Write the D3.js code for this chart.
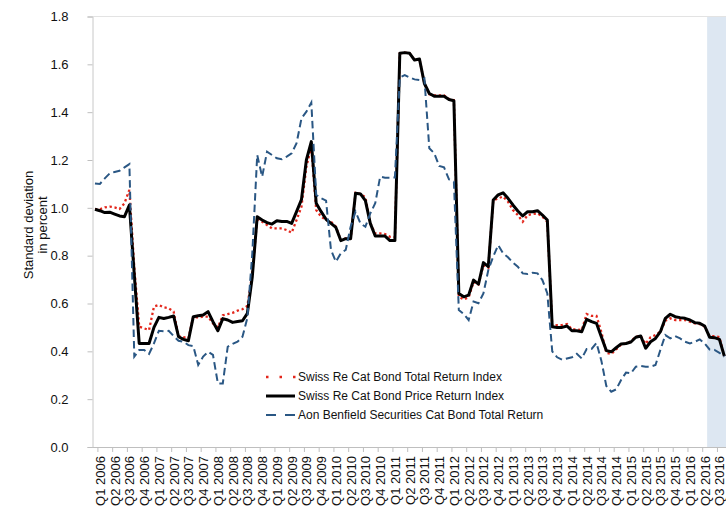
<!DOCTYPE html>
<html><head><meta charset="utf-8">
<script src="https://cdn.jsdelivr.net/npm/d3@7"></script>
<style>
body{margin:0;background:#fff}
svg{display:block}
text{font-family:"Liberation Sans",Arial,sans-serif}
</style>
</head><body>
<svg id="c" width="726" height="513"></svg>
<script>
// Quarter labels (x axis)
const quarterLabels = [
 "Q1 2006","Q2 2006","Q3 2006","Q4 2006",
 "Q1 2007","Q2 2007","Q3 2007","Q4 2007",
 "Q1 2008","Q2 2008","Q3 2008","Q4 2008",
 "Q1 2009","Q2 2009","Q3 2009","Q4 2009",
 "Q1 2010","Q2 2010","Q3 2010","Q4 2010",
 "Q1 2011","Q2 2011","Q3 2011","Q4 2011",
 "Q1 2012","Q2 2012","Q3 2012","Q4 2012",
 "Q1 2013","Q2 2013","Q3 2013","Q4 2013",
 "Q1 2014","Q2 2014","Q3 2014","Q4 2014",
 "Q1 2015","Q2 2015","Q3 2015","Q4 2015",
 "Q1 2016","Q2 2016","Q3 2016"
];
const yTicks = [0, 0.2, 0.4, 0.6, 0.8, 1.0, 1.2, 1.4, 1.6, 1.8];
const seriesNames = [
 "Swiss Re Cat Bond Total Return Index",
 "Swiss Re Cat Bond Price Return Index",
 "Aon Benfield Securities Cat Bond Total Return"
];
// Monthly values, first value = Dec 2005
const totalReturn = [
 0.994,0.994,1.002,1.005,1.002,0.995,1.019,1.075,0.75,0.503,
 0.496,0.489,0.587,0.594,0.584,0.580,0.566,0.464,0.459,0.454,
 0.545,0.541,0.545,0.545,0.517,0.500,0.551,0.556,0.561,0.570,
 0.576,0.590,0.726,0.955,0.942,0.928,0.914,0.914,0.914,0.907,
 0.896,0.949,1.005,1.172,1.256,0.991,0.963,0.949,0.942,0.921,
 0.865,0.872,0.872,1.063,1.058,1.044,0.935,0.893,0.893,0.890,
 0.879,0.877,1.646,1.649,1.646,1.618,1.622,1.520,1.475,1.470,
 1.470,1.470,1.455,1.450,0.628,0.617,0.626,0.690,0.680,0.760,
 0.750,1.030,1.040,1.047,1.026,0.991,0.970,0.942,0.970,0.974,
 0.977,0.963,0.942,0.505,0.510,0.510,0.514,0.492,0.492,0.489,
 0.556,0.548,0.548,0.480,0.394,0.389,0.408,0.428,0.433,0.442,
 0.461,0.464,0.431,0.459,0.468,0.482,0.528,0.538,0.531,0.531,
 0.531,0.524,0.517,0.514,0.503,0.464,0.464,0.459,0.380
];
const priceReturn = [
 0.994,0.988,0.980,0.982,0.974,0.966,0.963,1.012,0.720,0.433,
 0.433,0.433,0.500,0.542,0.537,0.542,0.548,0.461,0.450,0.444,
 0.545,0.549,0.552,0.566,0.524,0.486,0.537,0.531,0.521,0.525,
 0.528,0.559,0.712,0.963,0.949,0.938,0.932,0.946,0.943,0.943,
 0.935,0.984,1.035,1.200,1.277,1.019,0.984,0.952,0.935,0.918,
 0.863,0.871,0.871,1.061,1.058,1.030,0.935,0.882,0.882,0.882,
 0.863,0.863,1.646,1.649,1.646,1.618,1.622,1.520,1.478,1.467,
 1.467,1.467,1.453,1.448,0.642,0.628,0.635,0.698,0.681,0.771,
 0.754,1.033,1.054,1.063,1.040,1.012,0.987,0.966,0.984,0.984,
 0.988,0.970,0.949,0.503,0.500,0.500,0.506,0.486,0.486,0.482,
 0.534,0.524,0.517,0.460,0.403,0.398,0.415,0.431,0.433,0.439,
 0.459,0.464,0.413,0.440,0.454,0.482,0.538,0.555,0.545,0.541,
 0.538,0.531,0.520,0.517,0.506,0.459,0.457,0.450,0.380
];
const aonReturn = [
 1.102,1.100,1.123,1.144,1.150,1.155,1.169,1.183,0.378,0.406,
 0.406,0.389,0.433,0.486,0.484,0.486,0.464,0.444,0.440,0.426,
 0.422,0.343,0.378,0.398,0.385,0.266,0.266,0.419,0.431,0.440,
 0.461,0.540,0.810,1.221,1.130,1.235,1.221,1.207,1.203,1.214,
 1.228,1.270,1.374,1.402,1.440,1.054,1.040,1.030,0.824,0.775,
 0.810,0.824,0.921,0.984,0.935,0.921,0.977,1.019,1.130,1.126,
 1.126,1.127,1.545,1.555,1.545,1.537,1.534,1.541,1.249,1.228,
 1.175,1.169,1.119,1.109,0.573,0.556,0.531,0.608,0.601,0.642,
 0.740,0.796,0.844,0.810,0.793,0.771,0.754,0.726,0.723,0.729,
 0.726,0.698,0.642,0.400,0.375,0.365,0.370,0.375,0.390,0.370,
 0.410,0.410,0.435,0.360,0.255,0.231,0.241,0.280,0.311,0.308,
 0.336,0.339,0.336,0.336,0.343,0.406,0.468,0.454,0.464,0.454,
 0.440,0.433,0.440,0.450,0.433,0.408,0.406,0.394,0.378
];
const monthCount = 130;      // Dec 2005 .. Sep 2016 category slots
const shadeStartMonth = 125; // May 2016
const quarterStartOffset = 1; // Jan 2006 is slot 1

const W = 726, H = 513;
const mLeft = 92.5, mTop = 16.5, mBottom = 447;
const step = 4.917;
const svg = d3.select("#c");

const x = d3.scaleLinear().domain([0, monthCount]).range([mLeft, mLeft + monthCount * step]);
const y = d3.scaleLinear().domain([0, 1.8]).range([mBottom, mTop]);

svg.append("defs").append("clipPath").attr("id","plot")
  .append("rect").attr("x", mLeft).attr("y", 0).attr("width", W - mLeft).attr("height", mBottom + 1);

const plot = svg.append("g").attr("clip-path","url(#plot)");

plot.append("rect")
  .attr("x", x(shadeStartMonth)).attr("y", y(1.8))
  .attr("width", x(monthCount) - x(shadeStartMonth))
  .attr("height", y(0) - y(1.8))
  .attr("fill", "#dde7f2");

svg.append("line").attr("x1", mLeft).attr("x2", W).attr("y1", y(1.8)).attr("y2", y(1.8))
  .attr("stroke", "#e3e3e3").attr("stroke-width", 1);

const line = d3.line().x((d,i) => x(i + 0.5)).y(d => y(d));

plot.append("path").datum(totalReturn).attr("d", line)
  .attr("fill","none").attr("stroke","#e3261b").attr("stroke-width",2.3)
  .attr("stroke-dasharray","2.3,2.7");
plot.append("path").datum(priceReturn).attr("d", line)
  .attr("fill","none").attr("stroke","#000").attr("stroke-width",3)
  .attr("stroke-linejoin","round");
plot.append("path").datum(aonReturn).attr("d", line)
  .attr("fill","none").attr("stroke","#2a5784").attr("stroke-width",2)
  .attr("stroke-dasharray","7.5,4");

const yAxis = d3.axisLeft(y).tickValues(yTicks).tickFormat(d3.format(".1f"))
  .tickSize(5).tickPadding(19);
const gy = svg.append("g").attr("transform", `translate(${mLeft},0)`).call(yAxis);
gy.select(".domain").attr("stroke","#c8c8c8");
gy.selectAll(".tick line").attr("stroke","#bfbfbf");
gy.selectAll(".tick text").attr("font-size",13).attr("fill","#111")
  .style("font-family","'Liberation Sans',Arial,sans-serif");

const tickPos = quarterLabels.map((d,q) => quarterStartOffset + 3*q);
const xAxisTicks = d3.axisBottom(x).tickValues(tickPos).tickFormat("").tickSize(5);
const gx = svg.append("g").attr("transform", `translate(0,${mBottom})`).call(xAxisTicks);
gx.select(".domain").attr("stroke","#bfbfbf").attr("d", `M${mLeft},0.5H${W}`);
gx.selectAll(".tick line").attr("stroke","#bfbfbf");

const labelPos = quarterLabels.map((d,q) => quarterStartOffset + 3*q + 0.5);
const xAxisLabels = d3.axisBottom(x).tickValues(labelPos)
  .tickFormat((d,i) => quarterLabels[i]).tickSize(0);
const gxl = svg.append("g").attr("transform", `translate(0,${mBottom})`).call(xAxisLabels);
gxl.select(".domain").remove();
gxl.selectAll(".tick text")
  .attr("font-size",13).attr("fill","#111")
  .style("font-family","'Liberation Sans',Arial,sans-serif")
  .attr("text-anchor","end")
  .attr("transform","rotate(-90)")
  .attr("x",-9).attr("y",0).attr("dy","0.35em");

const yt = svg.append("text")
  .attr("transform","translate(0,225) rotate(-90)")
  .attr("text-anchor","middle").attr("font-size",13).attr("fill","#111");
yt.append("tspan").attr("x",0).attr("y",33).text("Standard deviation");
yt.append("tspan").attr("x",0).attr("y",47).text("in percent");

const lg = svg.append("g");
const rows = [377, 396, 415];
const lx0 = 266, lx1 = 295, tx = 298;
lg.append("line").attr("x1",lx0).attr("x2",lx1+1).attr("y1",rows[0]).attr("y2",rows[0])
  .attr("stroke","#e3261b").attr("stroke-width",2.5).attr("stroke-dasharray","2.5,11");
lg.append("line").attr("x1",lx0).attr("x2",lx1).attr("y1",rows[1]).attr("y2",rows[1])
  .attr("stroke","#000").attr("stroke-width",3);
lg.append("line").attr("x1",lx0).attr("x2",lx1).attr("y1",rows[2]).attr("y2",rows[2])
  .attr("stroke","#2a5784").attr("stroke-width",2).attr("stroke-dasharray","10,9");
seriesNames.forEach((n,i) => {
  lg.append("text").attr("x",tx).attr("y",rows[i]).attr("dy","0.35em")
    .attr("font-size",12).attr("fill","#111").text(n);
});
</script>
</body></html>
